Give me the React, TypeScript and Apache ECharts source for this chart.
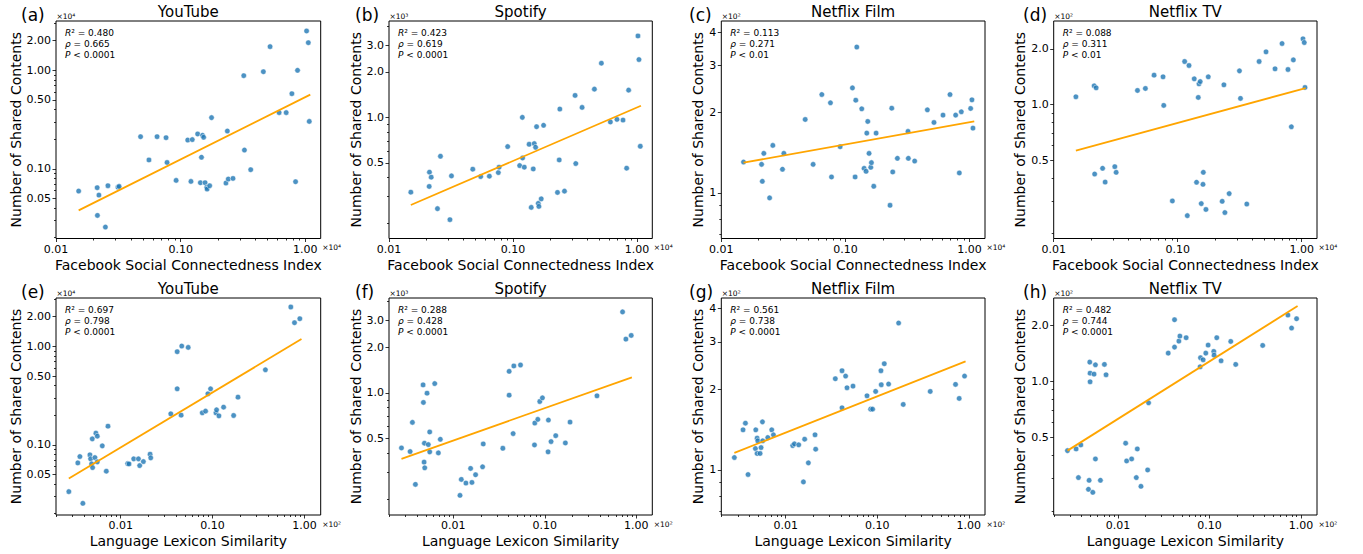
import React, { useEffect, useRef } from "react";
import * as echarts from "echarts";

const FONT = "DejaVu Sans";

// ---------- data ----------
const sciA = [0.0152,0.0214,0.0221,0.0215,0.0261,0.0249,0.0314,0.0321,0.0477,0.0557,0.0647,0.0764,0.0778,0.092,0.114,0.124,0.121,0.137,0.144,0.147,0.15,0.153,0.157,0.162,0.163,0.171,0.177,0.231,0.237,0.241,0.263,0.321,0.325,0.365,0.461,0.522,0.617,0.703,0.781,0.836,0.867,1.025,1.058,1.077];
const sharedA = [0.0594,0.0643,0.0541,0.0336,0.0673,0.0256,0.0653,0.0663,0.212,0.123,0.212,0.207,0.116,0.0763,0.196,0.198,0.0745,0.226,0.0722,0.131,0.219,0.209,0.0722,0.0648,0.0623,0.0673,0.331,0.0717,0.242,0.0787,0.0799,0.883,0.155,0.098,0.969,1.74,0.372,0.372,0.579,0.074,1.0,2.51,1.91,0.303];
const fitXA = [0.0152, 1.097];
const fitYA = [0.0378, 0.566];

const sciB = [0.015,0.0211,0.0212,0.0219,0.0246,0.026,0.031,0.0319,0.0474,0.0549,0.0645,0.0762,0.0772,0.0906,0.1132,0.119,0.1196,0.1234,0.135,0.1404,0.1457,0.1485,0.1522,0.155,0.16,0.1618,0.169,0.1766,0.2286,0.236,0.2388,0.2603,0.317,0.321,0.361,0.4537,0.5164,0.6104,0.69,0.772,0.826,0.857,1.019,1.038,1.064];
const sharedB = [0.32,0.349,0.434,0.402,0.249,0.553,0.2105,0.41,0.454,0.406,0.408,0.4315,0.468,0.641,0.48,1.0,0.539,0.468,0.664,0.2538,0.456,0.6705,0.634,0.868,0.27,0.2576,0.289,0.886,0.3186,0.523,1.135,0.325,1.397,0.495,1.164,1.537,2.281,0.932,0.97,0.96,0.461,1.514,3.456,2.412,0.644];
const fitXB = [0.015, 1.077];
const fitYB = [0.263, 1.194];

const sciC = [0.0151,0.0211,0.0214,0.022,0.0245,0.026,0.0311,0.0319,0.0474,0.0549,0.0645,0.0757,0.0772,0.0906,0.1138,0.1196,0.1211,0.1234,0.1353,0.1413,0.1466,0.1485,0.1512,0.1549,0.1599,0.1618,0.169,0.1765,0.2286,0.236,0.2403,0.2619,0.319,0.321,0.361,0.4566,0.5163,0.6104,0.695,0.772,0.826,0.857,1.019,1.044,1.064];
const sharedC = [1.305,1.279,1.105,1.406,0.958,1.506,1.226,1.406,1.883,1.279,2.335,2.174,1.147,1.489,2.472,1.147,2.223,3.516,2.064,1.236,1.205,1.674,1.851,1.406,1.247,1.298,1.059,1.674,0.899,2.075,1.198,1.347,1.699,1.347,1.316,2.046,1.835,1.955,2.335,1.955,1.188,2.012,2.07,2.23,1.748];
const fitXC = [0.0151, 1.09];
const fitYC = [1.298, 1.851];

const sciD = [0.0151,0.0212,0.022,0.0214,0.0248,0.026,0.0311,0.0319,0.0474,0.0549,0.0645,0.0762,0.0772,0.0906,0.1138,0.1196,0.1234,0.136,0.142,0.1485,0.152,0.1466,0.155,0.16,0.161,0.169,0.1765,0.2286,0.236,0.2403,0.2603,0.315,0.3212,0.361,0.454,0.516,0.61,0.695,0.776,0.826,0.857,1.025,1.05,1.064];
const sharedD = [1.1,1.261,1.23,0.42,0.451,0.38,0.4604,0.429,1.19,1.22,1.441,1.411,0.988,0.3003,1.708,0.25,1.625,1.376,0.379,1.293,1.331,1.091,0.2904,0.3694,0.429,0.27,1.411,0.299,1.277,0.2598,0.329,1.52,1.078,0.289,1.708,1.926,1.559,2.137,1.546,0.757,1.743,2.265,2.163,1.236];
const fitXD = [0.0151, 1.077];
const fitYD = [0.562, 1.226];

const lexE = [0.00273,0.00342,0.0036,0.00388,0.00463,0.00471,0.00483,0.00491,0.00495,0.00525,0.00538,0.00557,0.00557,0.00631,0.00698,0.00728,0.01192,0.01233,0.01387,0.0156,0.0161,0.01767,0.0209,0.02124,0.0351,0.0412,0.0412,0.0455,0.0462,0.0543,0.0772,0.0839,0.0889,0.0951,0.1087,0.1105,0.1172,0.1318,0.1694,0.189,0.3754,0.7096,0.778,0.889];
const sharedE = [0.0335,0.0656,0.0761,0.0255,0.0791,0.0721,0.0641,0.1151,0.0588,0.0743,0.1315,0.1225,0.0672,0.0977,0.054,0.1548,0.0646,0.064,0.0721,0.0721,0.0616,0.0677,0.0804,0.0738,0.2066,0.883,0.371,0.2003,1.008,0.977,0.2115,0.22,0.33,0.371,0.2115,0.227,0.197,0.2415,0.1987,0.3053,0.579,2.512,1.741,1.91];
const fitXE = [0.00273, 0.927];
const fitYE = [0.0455, 1.187];

const lexF = [0.00271,0.00337,0.00357,0.00385,0.00467,0.00471,0.00479,0.00483,0.00487,0.00516,0.00533,0.00552,0.00552,0.00626,0.00686,0.00721,0.01183,0.01223,0.01374,0.01545,0.01598,0.01752,0.0209,0.02124,0.0348,0.0408,0.0408,0.0451,0.0459,0.0543,0.0772,0.0778,0.0839,0.0882,0.0943,0.1087,0.1096,0.1172,0.1318,0.168,0.189,0.3724,0.7096,0.7716,0.882];
const sharedF = [0.434,0.4108,0.639,0.2496,1.128,0.864,0.35,0.466,0.321,0.995,0.4565,0.4088,0.5527,1.151,0.4025,0.4946,0.2115,0.2692,0.2548,0.318,0.2573,0.289,0.326,0.461,0.4318,1.386,0.9654,0.539,1.503,1.525,0.4542,0.633,0.669,0.877,0.927,0.4088,0.662,0.4776,0.5226,0.468,0.642,0.9558,3.411,2.258,2.387];
const fitXF = [0.00271, 0.897];
const fitYF = [0.3677, 1.266];

const lexG = [0.00275,0.00342,0.00363,0.00388,0.00471,0.00467,0.00487,0.00495,0.00487,0.00525,0.00538,0.00557,0.00561,0.00637,0.00704,0.00734,0.01192,0.01244,0.01387,0.0161,0.0156,0.01767,0.0209,0.02124,0.0348,0.0412,0.0412,0.0451,0.0467,0.0543,0.0772,0.0846,0.0889,0.0959,0.1096,0.1105,0.1192,0.1329,0.171,0.192,0.3786,0.715,0.784,0.897];
const sharedG = [1.112,1.41,1.493,0.961,1.41,1.201,1.313,1.283,1.151,1.151,1.211,1.51,1.283,1.32,1.41,1.351,1.232,1.25,1.24,1.301,0.902,1.062,1.351,1.194,2.186,2.341,1.703,2.236,2.023,2.052,1.888,1.684,1.684,1.96,2.341,2.076,2.486,2.088,3.526,1.753,1.96,2.082,1.846,2.236];
const fitXG = [0.00275, 0.92];
const fitYG = [1.157, 2.537];

const lexH = [0.0028,0.00348,0.00369,0.00392,0.00475,0.00483,0.00491,0.00495,0.00495,0.0053,0.00547,0.00566,0.00566,0.00642,0.0071,0.0074,0.01212,0.01243,0.0141,0.01585,0.01625,0.01782,0.0211,0.0216,0.0354,0.0415,0.0415,0.0463,0.0475,0.0556,0.0791,0.0798,0.0853,0.0912,0.0967,0.1115,0.1124,0.1202,0.134,0.171,0.1937,0.382,0.7213,0.791,0.897];
const sharedH = [0.423,0.432,0.303,0.454,0.262,0.293,1.266,1.104,0.992,0.2524,1.091,1.224,0.3817,0.293,1.23,1.082,0.4636,0.3723,0.3817,0.303,0.432,0.272,0.333,0.7646,1.415,2.14,1.524,1.642,1.747,1.712,1.195,1.336,1.303,1.415,1.563,1.445,1.38,1.712,1.287,1.635,1.23,1.556,2.268,1.93,2.166];
const fitXH = [0.0028, 0.92];
const fitYH = [0.423, 2.535];

// ---------- texts / ticks ----------
const panelTags = ["(a)", "(b)", "(c)", "(d)", "(e)", "(f)", "(g)", "(h)"];
const panelTitles = ["YouTube", "Spotify", "Netflix Film", "Netflix TV", "YouTube", "Spotify", "Netflix Film", "Netflix TV"];
const r2Values = ["0.480", "0.423", "0.113", "0.088", "0.697", "0.288", "0.561", "0.482"];
const rhoValues = ["0.665", "0.619", "0.271", "0.311", "0.798", "0.428", "0.738", "0.744"];
const pValues = ["0.0001", "0.0001", "0.01", "0.01", "0.0001", "0.0001", "0.0001", "0.0001"];
const yScaleTexts = ["×10⁴", "×10³", "×10²", "×10²", "×10⁴", "×10³", "×10²", "×10²"];
const xScaleTexts = ["×10⁴", "×10²"];
const xTitles = ["Facebook Social Connectedness Index", "Language Lexicon Similarity"];
const yTitle = "Number of Shared Contents";

const xMajorTicks = [0.01, 0.1, 1];
const xMinorTicksSci = [0.02,0.03,0.04,0.05,0.06,0.07,0.08,0.09,0.2,0.3,0.4,0.5,0.6,0.7,0.8,0.9];
const xMinorTicksLex = [0.002,0.003,0.004,0.005,0.006,0.007,0.008,0.009,0.02,0.03,0.04,0.05,0.06,0.07,0.08,0.09,0.2,0.3,0.4,0.5,0.6,0.7,0.8,0.9];
const xRangeSci = [0.01, 1.33];
const xRangeLex = [0.00198, 1.5];

const yMajorYT = [0.05, 0.1, 0.5, 1, 2];
const yMinorYT = [0.02,0.03,0.04,0.06,0.07,0.08,0.09,0.2,0.3,0.4,0.6,0.7,0.8,0.9,3];
const yMajorSp = [0.5, 1, 2, 3];
const yMinorSp = [0.2,0.3,0.4,0.6,0.7,0.8,0.9,4];
const yMajorNF = [1, 2, 3, 4];
const yMinorNF = [0.7, 0.8, 0.9];
const yMajorNT = [0.5, 1, 2];
const yMinorNT = [0.2,0.3,0.4,0.6,0.7,0.8,0.9];

const yRanges = [[0.0196, 3.17], [0.158, 4.34], [0.675, 4.4], [0.188, 2.83], [0.0194, 3.1], [0.157, 4.21], [0.679, 4.37], [0.1906, 2.8]];

// ---------- layout ----------
const COL_LEFT = [56, 389, 721.3, 1053.7];
const COL_WIDTH = [264.7, 263.3, 263.7, 263.3];
const ROW_TOP = [21, 298];
const ROW_HEIGHT = [217.5, 217];
const TAG_X = [21, 355, 689, 1023];
const Y_NAME_GAP = [32, 25, 13, 20];

const POINT_COLOR = "rgba(31,119,180,0.8)";
const FIT_COLOR = "#ffa500";

const panelXs = [sciA, sciB, sciC, sciD, lexE, lexF, lexG, lexH];
const panelYs = [sharedA, sharedB, sharedC, sharedD, sharedE, sharedF, sharedG, sharedH];
const panelFitX = [fitXA, fitXB, fitXC, fitXD, fitXE, fitXF, fitXG, fitXH];
const panelFitY = [fitYA, fitYB, fitYC, fitYD, fitYE, fitYF, fitYG, fitYH];
const panelYMajor = [yMajorYT, yMajorSp, yMajorNF, yMajorNT];
const panelYMinor = [yMinorYT, yMinorSp, yMinorNF, yMinorNT];
const panelYDecimals = [2, 1, 0, 1];

const L10 = (v: number) => Math.log10(v);

function buildOption() {
  const grid: any[] = [];
  const xAxis: any[] = [];
  const yAxis: any[] = [];
  const series: any[] = [];
  const graphic: any[] = [];

  const tickLine = { lineStyle: { color: "#000", width: 0.8 } };
  const labelStyle = { fontFamily: FONT, fontSize: 11, color: "#000" };
  const hiddenLine = { show: false, onZero: false };

  for (let i = 0; i < 8; i++) {
    const col = i % 4;
    const row = Math.floor(i / 4);
    const left = COL_LEFT[col];
    const width = COL_WIDTH[col];
    const top = ROW_TOP[row];
    const height = ROW_HEIGHT[row];
    const xr = row === 0 ? xRangeSci : xRangeLex;
    const xMinor = row === 0 ? xMinorTicksSci : xMinorTicksLex;
    const yr = yRanges[i];
    const yMajor = panelYMajor[col];
    const yMinor = panelYMinor[col];
    const dec = panelYDecimals[col];

    grid.push({ left, top, width, height, show: true, borderColor: "#000", borderWidth: 1, backgroundColor: "transparent" });

    const base = i * 3;
    // main log axes (data mapping)
    xAxis.push({ gridIndex: i, type: "log", logBase: 10, min: xr[0], max: xr[1], show: false, position: "bottom", axisLine: hiddenLine });
    // major ticks + labels
    xAxis.push({
      gridIndex: i, type: "value", position: "bottom", min: L10(xr[0]), max: L10(xr[1]),
      axisLine: hiddenLine, splitLine: { show: false },
      axisTick: { show: true, length: 3.5, customValues: xMajorTicks.map(L10), ...tickLine },
      axisLabel: { show: true, margin: 5, customValues: xMajorTicks.map(L10), formatter: (v: number) => Math.pow(10, v).toFixed(2), ...labelStyle },
      name: xTitles[row], nameLocation: "middle", nameGap: 19,
      nameTextStyle: { fontFamily: FONT, fontSize: 14, color: "#000" },
    });
    // minor ticks
    xAxis.push({
      gridIndex: i, type: "value", position: "bottom", min: L10(xr[0]), max: L10(xr[1]),
      axisLine: hiddenLine, splitLine: { show: false }, axisLabel: { show: false },
      axisTick: { show: true, length: 2, customValues: xMinor.map(L10), ...tickLine },
    });

    yAxis.push({ gridIndex: i, type: "log", logBase: 10, min: yr[0], max: yr[1], show: false, position: "left", axisLine: hiddenLine });
    yAxis.push({
      gridIndex: i, type: "value", position: "left", min: L10(yr[0]), max: L10(yr[1]),
      axisLine: hiddenLine, splitLine: { show: false },
      axisTick: { show: true, length: 3.5, customValues: yMajor.map(L10), ...tickLine },
      axisLabel: { show: true, margin: 5, customValues: yMajor.map(L10), formatter: (v: number) => Math.pow(10, v).toFixed(dec), ...labelStyle },
      name: yTitle, nameLocation: "middle", nameRotate: 90, nameGap: Y_NAME_GAP[col],
      nameTextStyle: { fontFamily: FONT, fontSize: 14, color: "#000" },
    });
    yAxis.push({
      gridIndex: i, type: "value", position: "left", min: L10(yr[0]), max: L10(yr[1]),
      axisLine: hiddenLine, splitLine: { show: false }, axisLabel: { show: false },
      axisTick: { show: true, length: 2, customValues: yMinor.map(L10), ...tickLine },
    });

    const xs = panelXs[i];
    const ys = panelYs[i];
    series.push({
      type: "scatter", xAxisIndex: base, yAxisIndex: base,
      data: xs.map((x, k) => [x, ys[k]]),
      symbol: "circle", symbolSize: 5.5,
      itemStyle: { color: POINT_COLOR, borderColor: "#fff", borderWidth: 0.5, opacity: 1 },
      z: 2,
    });
    const fx = panelFitX[i];
    const fy = panelFitY[i];
    series.push({
      type: "line", xAxisIndex: base, yAxisIndex: base,
      data: fx.map((x, k) => [x, fy[k]]),
      showSymbol: false, symbol: "none",
      lineStyle: { color: FIT_COLOR, width: 1.8 },
      z: 3,
    });

    // texts
    graphic.push({
      type: "text", x: TAG_X[col], y: top - 6,
      style: { text: panelTags[i], fontFamily: FONT, fontSize: 17, fill: "#000", align: "left", verticalAlign: "middle", textAlign: "left", textVerticalAlign: "middle" },
    });
    graphic.push({
      type: "text", x: left + width / 2, y: top - 9.5,
      style: { text: panelTitles[i], fontFamily: FONT, fontSize: 15, fill: "#000", align: "center", verticalAlign: "middle", textAlign: "center", textVerticalAlign: "middle" },
    });
    graphic.push({
      type: "text", x: left + 0.5, y: top - 4.5,
      style: { text: yScaleTexts[i], fontFamily: FONT, fontSize: 7.5, fill: "#000", align: "left", verticalAlign: "middle", textAlign: "left", textVerticalAlign: "middle" },
    });
    graphic.push({
      type: "text", x: left + width + 1.5, y: top + height + 9,
      style: { text: xScaleTexts[row], fontFamily: FONT, fontSize: 7.5, fill: "#000", align: "left", verticalAlign: "middle", textAlign: "left", textVerticalAlign: "middle" },
    });
    const rich = {
      i: { fontFamily: FONT, fontSize: 9, fontStyle: "italic", fill: "#000", color: "#000" },
      n: { fontFamily: FONT, fontSize: 9, fill: "#000", color: "#000" },
    };
    const lines = [
      "{i|R}{n|² = " + r2Values[i] + "}",
      "{i|ρ}{n| = " + rhoValues[i] + "}",
      "{i|P}{n| < " + pValues[i] + "}",
    ];
    lines.forEach((t, k) => {
      graphic.push({
        type: "text", x: left + 9, y: top + 12.3 + k * 10.8,
        style: { text: t, rich, fontFamily: FONT, fontSize: 9, fill: "#000", align: "left", verticalAlign: "middle", textAlign: "left", textVerticalAlign: "middle" },
      });
    });
  }

  return {
    animation: false,
    backgroundColor: "#fff",
    textStyle: { fontFamily: FONT },
    grid, xAxis, yAxis, series, graphic,
  };
}

export default function App() {
  const ref = useRef<HTMLDivElement>(null);
  useEffect(() => {
    if (!ref.current) return;
    const chart = echarts.init(ref.current, undefined, { renderer: "svg", width: 1363, height: 554 });
    chart.setOption(buildOption() as any);
    return () => chart.dispose();
  }, []);
  return (
    <div
      ref={ref}
      style={{ position: "absolute", left: 0, top: 0, width: 1363, height: 554, background: "#fff" }}
    />
  );
}
